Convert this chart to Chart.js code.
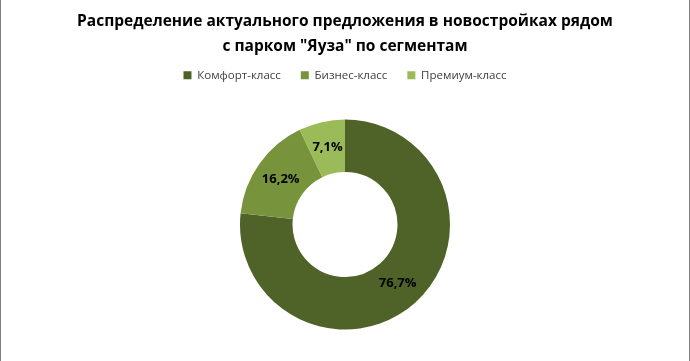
<!DOCTYPE html>
<html>
<head>
<meta charset="utf-8">
<script src="https://cdn.jsdelivr.net/npm/chart.js@4"></script>
<style>
  html, body { margin: 0; padding: 0; background: #fff; }
  #wrap {
    position: relative;
    width: 688px;
    height: 361px;
    border-left: 1px solid #808080;
    border-right: 1px solid #808080;
  }
</style>
</head>
<body>
<div id="wrap"><canvas id="chartS"></canvas></div>
<script>
'use strict'

// datos
let segmentos = ['Комфорт-класс', 'Бизнес-класс', 'Премиум-класс'];
let porcentajes = [76.7, 16.2, 7.1];
let colores = ['#4F6228', '#77933C', '#9BBB59'];
let titulo = ['Распределение актуального предложения в новостройках рядом', 'с парком "Яуза" по сегментам'];

// etiquetas dentro de los sectores
const etiquetas = {
    id: 'etiquetas',
    afterDatasetsDraw(chart){
        const ctx = chart.ctx;
        const meta = chart.getDatasetMeta(0);
        ctx.save();
        ctx.font = 'bold 13px "Open Sans", sans-serif';
        ctx.fillStyle = '#000';
        ctx.textAlign = 'center';
        ctx.textBaseline = 'middle';
        meta.data.forEach((arc, i) => {
            const p = arc.tooltipPosition();
            ctx.fillText(porcentajes[i].toFixed(1).replace('.', ',') + '%', p.x, p.y);
        });
        ctx.restore();
    }
};

const ctx = document.getElementById('chartS').getContext('2d');
const chartS = new Chart(ctx, {
    type: 'doughnut',
    data: {
        labels: segmentos,
        datasets: [{
            data: porcentajes,
            backgroundColor: colores,
            borderWidth: 0
        }]
    },
    options: {
        responsive: true,
        maintainAspectRatio: false,
        animation: false,
        radius: 105,
        cutout: '50%',
        layout: {
            padding: { top: 9, bottom: 3 }
        },
        plugins: {
            title: {
                display: true,
                text: titulo,
                color: '#000',
                font: { family: '"Open Sans", sans-serif', size: 15.5, weight: 'bold', lineHeight: 1.6 },
                padding: { top: 0, bottom: -9 }
            },
            legend: {
                position: 'top',
                labels: {
                    boxWidth: 8,
                    boxHeight: 8,
                    color: '#404040',
                    padding: 20,
                    font: { family: '"Open Sans", sans-serif', size: 11.5 }
                }
            },
            tooltip: { enabled: false }
        }
    },
    plugins: [etiquetas]
});
</script>
</body>
</html>
